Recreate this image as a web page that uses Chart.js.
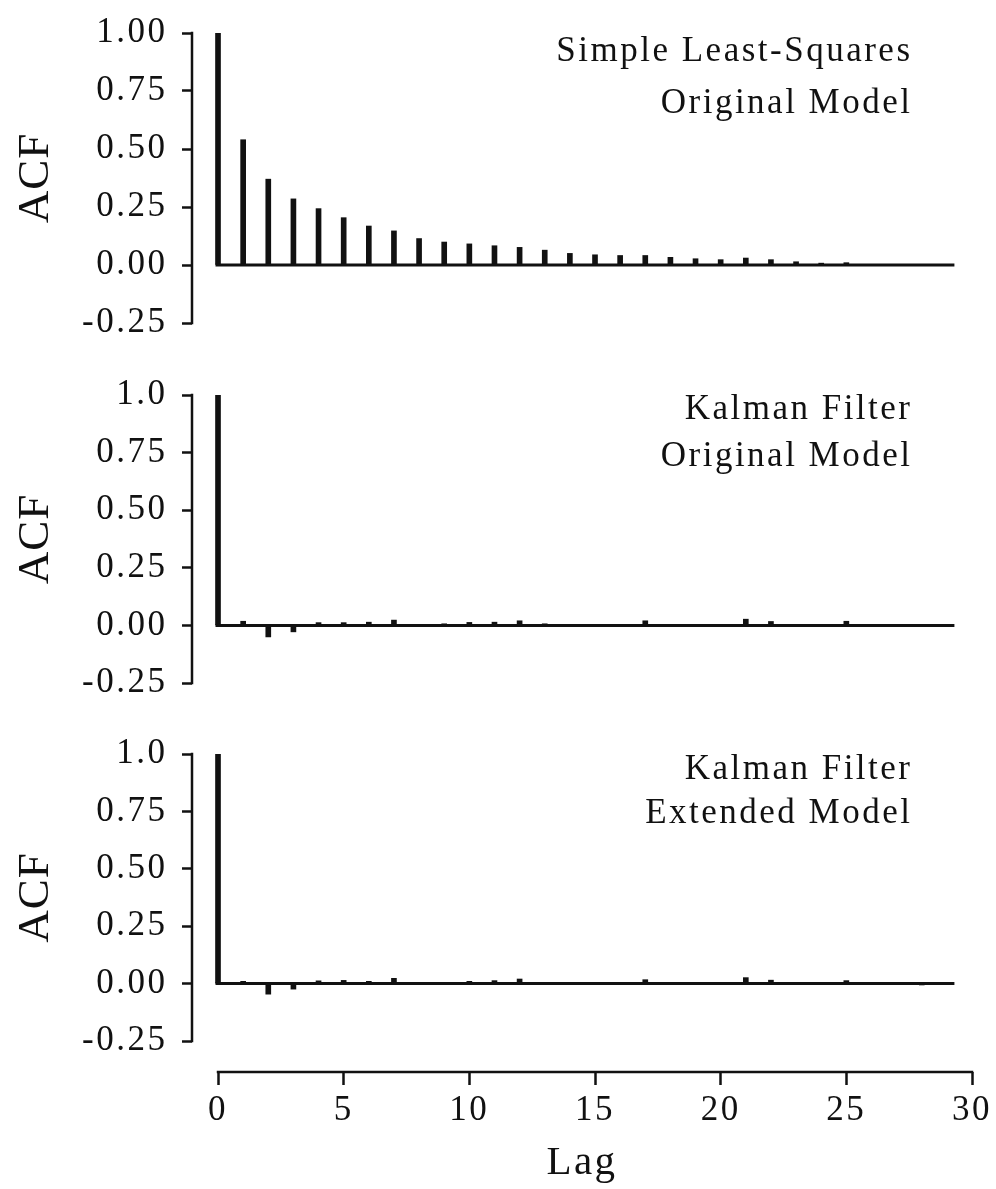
<!DOCTYPE html>
<html>
<head>
<meta charset="utf-8">
<title>Residual ACF</title>
<script src="https://cdn.jsdelivr.net/npm/chart.js@4.4.1/dist/chart.umd.min.js"></script>
<style>
    html, body { margin: 0; padding: 0; background: #ffffff; }
    #wrap { position: relative; width: 996px; height: 1189px; }
    #wrap canvas { position: absolute; left: 0; }
</style>
</head>
<body>
<div id="wrap">
    <canvas id="acfLeastSquares" width="996" height="360" style="top:0px"></canvas>
    <canvas id="acfKalmanOriginal" width="996" height="360" style="top:360px"></canvas>
    <canvas id="acfKalmanExtended" width="996" height="469" style="top:720px"></canvas>
</div>
<script>
const lags = [0, 1, 2, 3, 4, 5, 6, 7, 8, 9, 10, 11, 12, 13, 14, 15, 16, 17, 18, 19, 20, 21, 22, 23, 24, 25, 26, 27, 28, 29];

const acfLeastSquares = [1.00, 0.54, 0.37, 0.285, 0.243, 0.204, 0.168, 0.147, 0.114, 0.099,
    0.091, 0.083, 0.076, 0.064, 0.050, 0.044, 0.041, 0.041, 0.033, 0.027,
    0.023, 0.030, 0.023, 0.014, 0.008, 0.010, 0.002, 0, 0, 0];

const acfKalmanOriginal = [1.0, 0.018, -0.050, -0.028, 0.012, 0.012, 0.014, 0.023, 0.002, 0.007,
    0.013, 0.014, 0.020, 0.007, 0, 0, 0.001, 0.020, 0, 0,
    0.001, 0.027, 0.017, 0, 0, 0.018, 0, 0, -0.005, 0];

const acfKalmanExtended = [1.0, 0.010, -0.046, -0.024, 0.012, 0.014, 0.010, 0.023, 0.002, 0.004,
    0.010, 0.013, 0.020, 0.004, 0, 0, 0, 0.017, 0, 0,
    0, 0.026, 0.015, 0, 0, 0.013, 0, 0, -0.006, 0];

const yTickValues = [1.0, 0.75, 0.5, 0.25, 0, -0.25];
const yTickLabelsTop = ["1.00", "0.75", "0.50", "0.25", "0.00", "-0.25"];
const yTickLabels = ["1.0", "0.75", "0.50", "0.25", "0.00", "-0.25"];
const xTickValues = [0, 5, 10, 15, 20, 25, 30];

const notesLeastSquares = ["Simple Least-Squares", "Original Model"];
const notesKalmanOriginal = ["Kalman Filter", "Original Model"];
const notesKalmanExtended = ["Kalman Filter", "Extended Model"];

const INK = "#111111";
const SERIF = "'Liberation Serif', 'Times New Roman', serif";
const SPACING = "2.5px";
const ZERO_LINE_END = 29.3;

// frame lines, zero line, the rotated ACF title and the model notes
const panelDecor = {
    id: "panelDecor",
    beforeDraw(chart) {
        chart.ctx.letterSpacing = SPACING;
    },
    afterDraw(chart, args, opts) {
        const { ctx, chartArea } = chart;
        const x = chart.scales.x;
        const y = chart.scales.y;

        ctx.save();
        ctx.strokeStyle = INK;
        ctx.fillStyle = INK;

        const y0 = y.getPixelForValue(0);
        ctx.lineWidth = 3;
        ctx.beginPath();
        ctx.moveTo(x.getPixelForValue(lags[0]) - 2.5, y0);
        ctx.lineTo(x.getPixelForValue(ZERO_LINE_END), y0);
        ctx.stroke();

        ctx.lineWidth = 2.5;
        ctx.beginPath();
        ctx.moveTo(chartArea.left, y.getPixelForValue(yTickValues[0]) - 1.25);
        ctx.lineTo(chartArea.left, y.getPixelForValue(yTickValues[yTickValues.length - 1]) + 1.25);
        ctx.stroke();

        if (opts.showLagAxis) {
            ctx.beginPath();
            ctx.moveTo(x.getPixelForValue(xTickValues[0]) - 1.25, chartArea.bottom);
            ctx.lineTo(x.getPixelForValue(xTickValues[xTickValues.length - 1]) + 1.25, chartArea.bottom);
            ctx.stroke();
        }

        const midY = (y.getPixelForValue(yTickValues[0]) + y.getPixelForValue(yTickValues[yTickValues.length - 1])) / 2;
        ctx.save();
        ctx.translate(48, midY);
        ctx.rotate(-Math.PI / 2);
        ctx.font = "45px " + SERIF;
        ctx.letterSpacing = "1px";
        ctx.textAlign = "center";
        ctx.textBaseline = "alphabetic";
        ctx.fillText("ACF", 0, 0);
        ctx.restore();

        ctx.font = "35px " + SERIF;
        ctx.letterSpacing = SPACING;
        ctx.textAlign = "right";
        ctx.textBaseline = "alphabetic";
        opts.notes.forEach((line, i) => {
            ctx.fillText(line, chartArea.right - 59.5, chartArea.top + opts.noteBaselines[i]);
        });
        ctx.restore();
    }
};

function renderAcfPanel(canvasId, values, tickLabels, notes, cfg) {
    const canvas = document.getElementById(canvasId);
    if (!canvas) return null;

    const points = lags.map((lag, i) => ({ x: lag, y: values[i] }));

    return new Chart(canvas, {
        type: "bar",
        data: {
            datasets: [{
                data: points,
                backgroundColor: INK,
                borderWidth: 0,
                barThickness: 5
            }]
        },
        options: {
            responsive: false,
            animation: false,
            events: [],
            layout: {
                padding: { left: 0, right: 24, top: cfg.padTop, bottom: cfg.padBottom }
            },
            plugins: {
                legend: { display: false },
                tooltip: { enabled: false },
                panelDecor: {
                    notes,
                    noteBaselines: cfg.noteBaselines,
                    showLagAxis: cfg.showLagAxis
                }
            },
            scales: {
                x: {
                    type: "linear",
                    min: -1.035,
                    max: 30,
                    offset: false,
                    display: cfg.showLagAxis,
                    afterBuildTicks: scale => {
                        scale.ticks = xTickValues.map(v => ({ value: v }));
                    },
                    afterFit: scale => {
                        if (cfg.showLagAxis) scale.height = 117;
                    },
                    border: { display: false },
                    grid: {
                        offset: false,
                        drawOnChartArea: false,
                        drawTicks: true,
                        tickLength: 13,
                        tickWidth: 2.5,
                        tickColor: INK
                    },
                    ticks: {
                        autoSkip: false,
                        maxRotation: 0,
                        padding: 5,
                        color: INK,
                        font: { family: SERIF, size: 35 },
                        callback: v => String(v)
                    },
                    title: {
                        display: true,
                        text: "Lag",
                        color: INK,
                        font: { family: SERIF, size: 41 },
                        padding: { top: 0, bottom: 1 }
                    }
                },
                y: {
                    type: "linear",
                    min: cfg.yMin,
                    max: 1.0,
                    afterBuildTicks: scale => {
                        scale.ticks = yTickValues.map(v => ({ value: v }));
                    },
                    afterFit: scale => {
                        scale.width = 192;
                        scale.paddingTop = 0;
                        scale.paddingBottom = 0;
                    },
                    border: { display: false },
                    grid: {
                        drawOnChartArea: false,
                        drawTicks: true,
                        tickLength: 10,
                        tickWidth: 2.5,
                        tickColor: INK
                    },
                    ticks: {
                        padding: 14.5,
                        color: INK,
                        font: { family: SERIF, size: 35 },
                        callback: (v, i) => tickLabels[i]
                    }
                }
            }
        },
        plugins: [panelDecor]
    });
}

renderAcfPanel("acfLeastSquares", acfLeastSquares, yTickLabelsTop, notesLeastSquares, {
    padTop: 33, padBottom: 37, yMin: -0.25, showLagAxis: false, noteBaselines: [28, 80]
});

renderAcfPanel("acfKalmanOriginal", acfKalmanOriginal, yTickLabels, notesKalmanOriginal, {
    padTop: 35, padBottom: 37, yMin: -0.25, showLagAxis: false, noteBaselines: [24, 71]
});

renderAcfPanel("acfKalmanExtended", acfKalmanExtended, yTickLabels, notesKalmanExtended, {
    padTop: 34, padBottom: 0, yMin: -0.385, showLagAxis: true, noteBaselines: [25, 69]
});
</script>
</body>
</html>
